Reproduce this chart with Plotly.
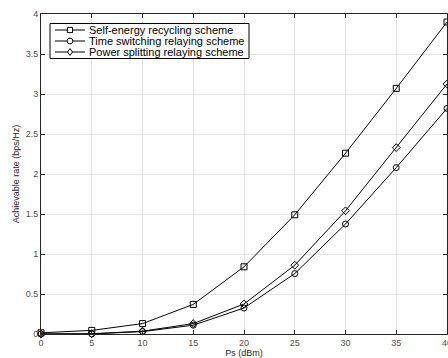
import plotly.graph_objects as go

ps = [0, 5, 10, 15, 20, 25, 30, 35, 40]
self_energy = [0.015, 0.045, 0.13, 0.37, 0.84, 1.49, 2.26, 3.07, 3.90]
time_switching = [0.0, 0.002, 0.03, 0.11, 0.325, 0.755, 1.375, 2.08, 2.82]
power_splitting = [0.0, 0.003, 0.035, 0.13, 0.375, 0.86, 1.54, 2.33, 3.125]

names = ["Self-energy recycling scheme", "Time switching relaying scheme", "Power splitting relaying scheme"]
symbols = ["square-open", "circle-open", "diamond-open"]
series = [self_energy, time_switching, power_splitting]

W, H = 448, 358
ML, MR, MT, MB = 41, 1, 14, 24
PW, PH = W - ML - MR, H - MT - MB


def px(x):
    return (x - ML) / PW


def py(y):
    return (H - MB - y) / PH


fig = go.Figure()
for nm, sym, ys in zip(names, symbols, series):
    fig.add_trace(go.Scatter(
        x=ps, y=ys, mode="lines+markers", name=nm, showlegend=False,
        line=dict(color="black", width=1),
        marker=dict(symbol=sym, size=6, color="black", line=dict(width=1, color="black")),
        cliponaxis=False,
    ))

font = "Liberation Sans, Arial, sans-serif"
axis_common = dict(
    showgrid=True, gridcolor="#e3e3e3", gridwidth=1,
    showline=True, linecolor="#262626", linewidth=1, mirror="ticks",
    ticks="inside", ticklen=4, tickcolor="#262626",
    tickfont=dict(family=font, size=9, color="#4d4d4d"),
    zeroline=False, automargin=False,
)

# legend drawn as layout shapes + annotations (compact, MATLAB style)
shapes = [dict(type="rect", xref="paper", yref="paper",
               x0=px(50), x1=px(249), y0=py(58.5), y1=py(23.5),
               line=dict(color="black", width=1), fillcolor="white", layer="above")]
annotations = []
row_y = [30, 41, 52]
for nm, sym, ry in zip(names, symbols, row_y):
    shapes.append(dict(type="line", xref="paper", yref="paper",
                       x0=px(55), x1=px(85), y0=py(ry), y1=py(ry),
                       line=dict(color="black", width=1), layer="above"))
    r = 2.6
    cx = 70
    if sym.startswith("square"):
        shapes.append(dict(type="rect", xref="paper", yref="paper",
                           x0=px(cx - r), x1=px(cx + r), y0=py(ry + r), y1=py(ry - r),
                           line=dict(color="black", width=1), fillcolor="white", layer="above"))
    elif sym.startswith("circle"):
        shapes.append(dict(type="circle", xref="paper", yref="paper",
                           x0=px(cx - r - 0.3), x1=px(cx + r + 0.3), y0=py(ry + r + 0.3), y1=py(ry - r - 0.3),
                           line=dict(color="black", width=1), fillcolor="white", layer="above"))
    else:
        d = r + 0.8
        path = "M {} {} L {} {} L {} {} L {} {} Z".format(
            px(cx), py(ry - d), px(cx + d * 0.75), py(ry), px(cx), py(ry + d), px(cx - d * 0.75), py(ry))
        shapes.append(dict(type="path", xref="paper", yref="paper", path=path,
                           line=dict(color="black", width=1), fillcolor="white", layer="above"))
    annotations.append(dict(text=nm, xref="paper", yref="paper", x=px(87), y=py(ry),
                            xanchor="left", yanchor="middle", showarrow=False,
                            font=dict(family=font, size=11, color="black")))

fig.update_layout(
    width=W, height=H,
    margin=dict(l=ML, r=MR, t=MT, b=MB),
    paper_bgcolor="white", plot_bgcolor="white",
    font=dict(family=font, size=9, color="#262626"),
    xaxis=dict(range=[0, 40], tickvals=ps, ticklabeloverflow="allow",
               title=dict(text="Ps (dBm)", standoff=0,
                          font=dict(family=font, size=9, color="#262626")), **axis_common),
    yaxis=dict(range=[0, 4], dtick=0.5, title=dict(text="Achievable rate (bps/Hz)", standoff=4,
               font=dict(family=font, size=9, color="#262626")), **axis_common),
    shapes=shapes, annotations=annotations,
    showlegend=False,
)
fig.write_html("out.html")
